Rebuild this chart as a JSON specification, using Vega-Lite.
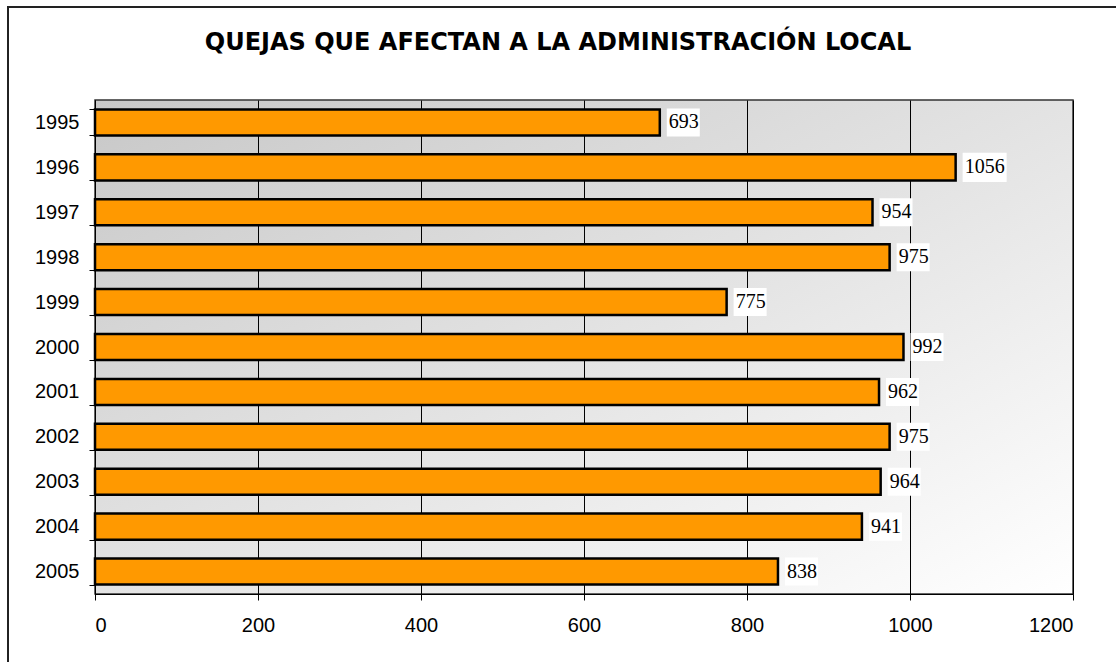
{
  "$schema": "https://vega.github.io/schema/vega-lite/v6.json",
  "width": 978,
  "height": 494,
  "autosize": {"type": "none"},
  "padding": {"left": 95, "top": 100, "right": 43, "bottom": 68},
  "background": "white",
  "title": {
    "text": "QUEJAS QUE AFECTAN A LA ADMINISTRACIÓN LOCAL",
    "font": "DejaVu Sans",
    "fontSize": 24,
    "fontWeight": "bold",
    "color": "black",
    "anchor": "middle",
    "dx": -26,
    "offset": -49
  },
  "view": {
    "fill": {
      "gradient": "linear",
      "x1": 0, "y1": 0, "x2": 1, "y2": 1,
      "stops": [
        {"offset": 0, "color": "#c8c8c8"},
        {"offset": 0.5, "color": "#e3e3e3"},
        {"offset": 1, "color": "#ffffff"}
      ]
    },
    "stroke": "#333333",
    "strokeWidth": 1.5
  },
  "data": {
    "values": [
      {"year": "1995", "value": 693},
      {"year": "1996", "value": 1056},
      {"year": "1997", "value": 954},
      {"year": "1998", "value": 975},
      {"year": "1999", "value": 775},
      {"year": "2000", "value": 992},
      {"year": "2001", "value": 962},
      {"year": "2002", "value": 975},
      {"year": "2003", "value": 964},
      {"year": "2004", "value": 941},
      {"year": "2005", "value": 838}
    ]
  },
  "layer": [
    {
      "layer": [
        {
          "mark": {"type": "bar", "color": "#FF9900", "stroke": "black", "strokeWidth": 2.5},
          "encoding": {
            "y": {
              "field": "year", "type": "ordinal",
              "scale": {"paddingInner": 0.42, "paddingOuter": 0.21},
              "axis": {
                "title": null,
                "labelFont": "Liberation Sans",
                "labelFontSize": 20,
                "labelColor": "black",
                "labelPadding": 10,
                "tickBand": "extent",
                "tickSize": 6,
                "tickColor": "black",
                "domainColor": "black",
                "grid": false
              }
            },
            "x": {
              "field": "value", "type": "quantitative",
              "scale": {"domain": [0, 1200], "nice": false},
              "axis": {
                "title": null,
                "values": [0, 200, 400, 600, 800, 1000, 1200],
                "format": "d",
                "labelFont": "Liberation Sans",
                "labelFontSize": 20,
                "labelColor": "black",
                "labelPadding": 15,
                "tickSize": 6,
                "tickColor": "black",
                "domainColor": "black",
                "grid": true,
                "gridColor": "black",
                "gridOpacity": 1,
                "gridWidth": 1
              }
            }
          }
        },
        {
          "mark": {"type": "point", "filled": true, "fill": "white", "opacity": 1, "strokeWidth": 0, "xOffset": 7},
          "encoding": {
            "y": {"field": "year", "type": "ordinal"},
            "x": {"field": "value", "type": "quantitative"},
            "shape": {
              "condition": {"test": "datum.value >= 1000", "value": "M0,-0.66H2V0.66H0Z"},
              "value": "M0,-0.85H2V0.85H0Z"
            },
            "size": {
              "condition": {"test": "datum.value >= 1000", "value": 1936},
              "value": 1089
            }
          }
        },
        {
          "mark": {"type": "text", "align": "left", "baseline": "middle", "xOffset": 9, "font": "Liberation Serif", "fontSize": 20, "color": "black"},
          "encoding": {
            "y": {"field": "year", "type": "ordinal"},
            "x": {"field": "value", "type": "quantitative"},
            "text": {"field": "value", "type": "quantitative", "format": "d"}
          }
        }
      ]
    },
    {
      "mark": {"type": "rect", "filled": false, "stroke": "#222222", "strokeWidth": 1.5, "clip": false},
      "encoding": {
        "x": {"datum": -0.089, "type": "quantitative", "scale": {"domain": [0, 1], "nice": false, "zero": false}, "axis": null},
        "x2": {"datum": 1.3},
        "y": {"datum": 1.188, "type": "quantitative", "scale": {"domain": [0, 1], "nice": false, "zero": false}, "axis": null},
        "y2": {"datum": -0.3}
      }
    }
  ],
  "resolve": {"scale": {"x": "independent", "y": "independent"}}
}
